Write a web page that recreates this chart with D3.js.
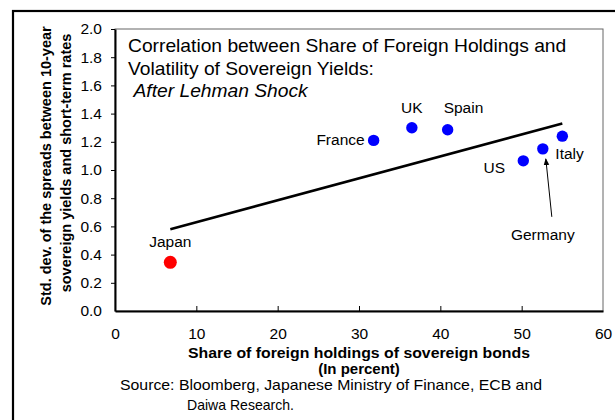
<!DOCTYPE html>
<html>
<head>
<meta charset="utf-8">
<script src="https://cdn.jsdelivr.net/npm/d3@7"></script>
<style>
  body { margin: 0; background: #fff; }
  svg text { font-family: Arial, "Liberation Sans", sans-serif; fill: #000; }
</style>
</head>
<body>
<svg id="chart" width="615" height="420"></svg>
<script>
// data
var countries = ["Japan", "France", "UK", "Spain", "US", "Germany", "Italy"];
var foreignShare = [6.8, 31.8, 36.5, 40.9, 50.2, 52.6, 55.0];
var yieldStdDev = [0.345, 1.21, 1.30, 1.285, 1.065, 1.15, 1.24];
var trendX = [6.8, 55.0];
var trendY = [0.58, 1.33];
var xTicks = [0, 10, 20, 30, 40, 50, 60];
var yTicks = [0, 0.2, 0.4, 0.6, 0.8, 1.0, 1.2, 1.4, 1.6, 1.8, 2.0];

// label placement (pixels relative to the dot)
var labelPos = {
  Japan:   { dx: 0,   dy: -15, anchor: "middle" },
  France:  { dx: -9,  dy: 5,   anchor: "end" },
  UK:      { dx: 0,   dy: -15, anchor: "middle" },
  Spain:   { dx: -4,  dy: -17, anchor: "start" },
  US:      { dx: -29, dy: 12,  anchor: "middle" },
  Germany: { dx: 0,   dy: 91,  anchor: "middle" },
  Italy:   { dx: -7,  dy: 23,  anchor: "start" }
};

var svg = d3.select("#chart");
var plotL = 115, plotR = 603, plotT = 29, plotB = 311;

var x = d3.scaleLinear().domain([0, 60]).range([plotL, plotR]);
var y = d3.scaleLinear().domain([0, 2]).range([plotB, plotT]);

// outer frame (runs off the right and bottom edges)
svg.append("rect")
  .attr("x", 13).attr("y", 11)
  .attr("width", 700).attr("height", 500)
  .attr("fill", "none").attr("stroke", "#000").attr("stroke-width", 2.2);

// plot box, grey on top/right
svg.append("rect")
  .attr("x", plotL).attr("y", plotT)
  .attr("width", plotR - plotL).attr("height", plotB - plotT)
  .attr("fill", "none").attr("stroke", "#666").attr("stroke-width", 1);

// axes
var xAxis = svg.append("g")
  .attr("transform", "translate(0," + plotB + ")")
  .call(d3.axisBottom(x).tickValues(xTicks).tickSizeInner(-5).tickSizeOuter(0).tickPadding(17).tickFormat(d3.format("d")));
var yAxis = svg.append("g")
  .attr("transform", "translate(" + plotL + ",0)")
  .call(d3.axisLeft(y).tickValues(yTicks).tickSizeInner(4).tickSizeOuter(0).tickPadding(9).tickFormat(d3.format(".1f")));

[xAxis, yAxis].forEach(function(g) {
  g.select(".domain").attr("stroke", "#000").attr("stroke-width", 2);
  g.selectAll(".tick line").attr("stroke", "#000").attr("stroke-width", 1);
  g.selectAll(".tick text").attr("font-size", 15.5).attr("font-family", "Arial, 'Liberation Sans', sans-serif");
});
xAxis.selectAll(".tick line").filter(function(d) { return d === 0 || d === 60; }).remove();
yAxis.selectAll(".tick line").filter(function(d) { return d === 0; }).remove();

// axis titles
svg.append("text")
  .attr("x", (plotL + plotR) / 2).attr("y", 358)
  .attr("text-anchor", "middle").attr("font-size", 15.5).attr("font-weight", "bold")
  .attr("textLength", 342).attr("lengthAdjust", "spacingAndGlyphs")
  .text("Share of foreign holdings of sovereign bonds");
svg.append("text")
  .attr("x", (plotL + plotR) / 2).attr("y", 374)
  .attr("text-anchor", "middle").attr("font-size", 15).attr("font-weight", "bold")
  .text("(In percent)");

var yTitle = svg.append("g").attr("transform", "translate(0,166) rotate(-90)");
yTitle.append("text")
  .attr("x", 0).attr("y", 51)
  .attr("text-anchor", "middle").attr("font-size", 14.5).attr("font-weight", "bold")
  .text("Std. dev. of the spreads between 10-year");
yTitle.append("text")
  .attr("x", 3).attr("y", 71)
  .attr("text-anchor", "middle").attr("font-size", 14.5).attr("font-weight", "bold")
  .text("sovereign yields and short-term rates");

// source note
svg.append("text")
  .attr("x", 120).attr("y", 390).attr("font-size", 14.8)
  .attr("textLength", 422).attr("lengthAdjust", "spacingAndGlyphs")
  .text("Source: Bloomberg, Japanese Ministry of Finance, ECB and");
svg.append("text")
  .attr("x", 187).attr("y", 410).attr("font-size", 14.8)
  .attr("textLength", 107).attr("lengthAdjust", "spacingAndGlyphs")
  .text("Daiwa Research.");

// chart title inside the box, slightly wide type as in the original
var title = svg.append("g").attr("transform", "translate(128,0) scale(1.1,1)");
title.append("text")
  .attr("x", 0).attr("y", 52).attr("font-size", 17.5)
  .text("Correlation between Share of Foreign Holdings and");
title.append("text")
  .attr("x", 0).attr("y", 75).attr("font-size", 17.5)
  .text("Volatility of Sovereign Yields:");
title.append("text")
  .attr("x", 5).attr("y", 97).attr("font-size", 17.5).attr("font-style", "italic")
  .text("After Lehman Shock");

// trend line
var line = d3.line().x(function(d) { return x(d[0]); }).y(function(d) { return y(d[1]); });
svg.append("path")
  .datum(d3.zip(trendX, trendY))
  .attr("d", line)
  .attr("fill", "none").attr("stroke", "#000").attr("stroke-width", 2.5);

// points
var pts = countries.map(function(c, i) {
  return { name: c, fx: foreignShare[i], sd: yieldStdDev[i] };
});

svg.selectAll("circle.pt")
  .data(pts)
  .enter()
  .append("circle")
  .attr("class", "pt")
  .attr("cx", function(d) { return x(d.fx); })
  .attr("cy", function(d) { return y(d.sd); })
  .attr("r", function(d) { return d.name === "Japan" ? 6.5 : 5.7; })
  .attr("fill", function(d) { return d.name === "Japan" ? "#ff0000" : "#0000ff"; });

svg.selectAll("text.lbl")
  .data(pts)
  .enter()
  .append("text")
  .attr("class", "lbl")
  .attr("x", function(d) { return x(d.fx) + labelPos[d.name].dx; })
  .attr("y", function(d) { return y(d.sd) + labelPos[d.name].dy; })
  .attr("text-anchor", function(d) { return labelPos[d.name].anchor; })
  .attr("font-size", 15.5)
  .text(function(d) { return d.name; });

// arrow pointing to Germany
svg.append("defs").append("marker")
  .attr("id", "arr").attr("viewBox", "0 0 10 10")
  .attr("refX", 9).attr("refY", 5)
  .attr("markerWidth", 7).attr("markerHeight", 7)
  .attr("orient", "auto")
  .append("path").attr("d", "M0,1 L10,5 L0,9 z").attr("fill", "#000");

var ger = pts[countries.indexOf("Germany")];
svg.append("line")
  .attr("x1", x(ger.fx) + 9).attr("y1", y(ger.sd) + 68)
  .attr("x2", x(ger.fx) + 3).attr("y2", y(ger.sd) + 10)
  .attr("stroke", "#000").attr("stroke-width", 1)
  .attr("marker-end", "url(#arr)");
</script>
</body>
</html>
